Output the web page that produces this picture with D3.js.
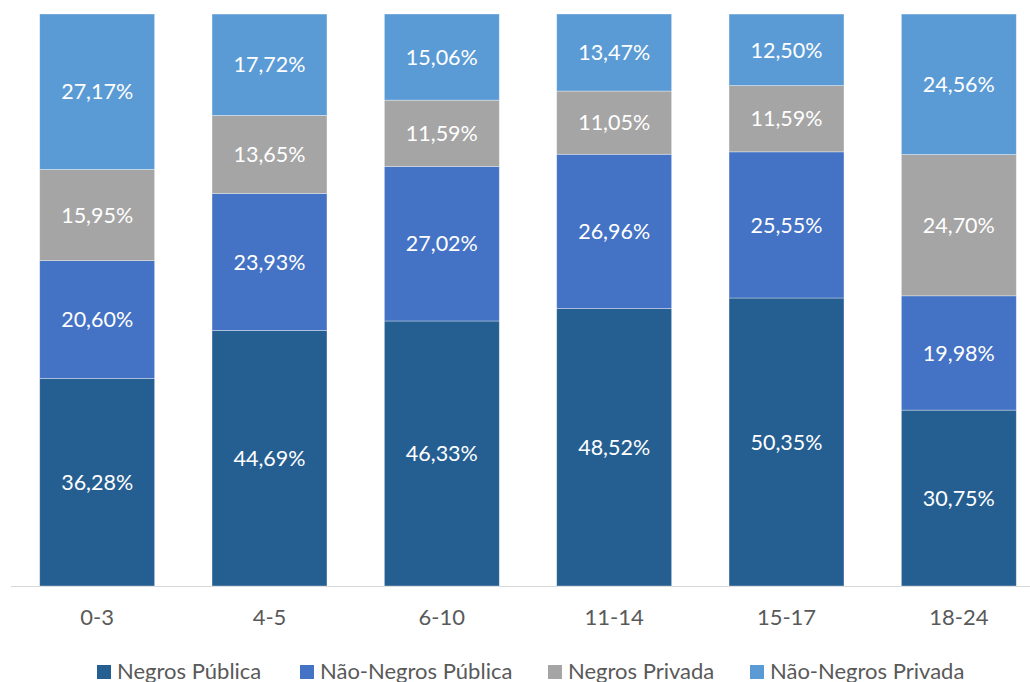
<!DOCTYPE html>
<html>
<head>
<meta charset="utf-8">
<script src="https://cdn.jsdelivr.net/npm/d3@7"></script>
<style>
  body { margin: 0; background: #fff; }
  svg { display: block; font-family: Lato, "Open Sans", sans-serif; }
</style>
</head>
<body>
<script>
const categories = ["0-3", "4-5", "6-10", "11-14", "15-17", "18-24"];
const seriesNames = ["Negros Pública", "Não-Negros Pública", "Negros Privada", "Não-Negros Privada"];
const negrosPublica = [36.28, 44.69, 46.33, 48.52, 50.35, 30.75];
const naoNegrosPublica = [20.60, 23.93, 27.02, 26.96, 25.55, 19.98];
const negrosPrivada = [15.95, 13.65, 11.59, 11.05, 11.59, 24.70];
const naoNegrosPrivada = [27.17, 17.72, 15.06, 13.47, 12.50, 24.56];
const colors = ["#255e91", "#4472c4", "#a5a5a5", "#5b9bd5"];

const w = 1030, h = 682;
const plotLeft = 11, plotRight = 1045, plotTop = 14, plotBottom = 586;

const rows = categories.map((c, i) => ({
  cat: c,
  "Negros Pública": negrosPublica[i],
  "Não-Negros Pública": naoNegrosPublica[i],
  "Negros Privada": negrosPrivada[i],
  "Não-Negros Privada": naoNegrosPrivada[i]
}));

const stack = d3.stack().keys(seriesNames)(rows);

const x = d3.scaleBand().domain(categories).range([plotLeft, plotRight]).paddingInner(0.333).paddingOuter(0.1665);
const y = d3.scaleLinear().domain([0, 100]).range([plotBottom, plotTop]);
const color = d3.scaleOrdinal().domain(seriesNames).range(colors);

const svg = d3.select("body").append("svg")
  .attr("width", w)
  .attr("height", h);

// axis line
svg.append("line")
  .attr("x1", plotLeft).attr("x2", plotRight)
  .attr("y1", plotBottom + 0.5).attr("y2", plotBottom + 0.5)
  .attr("stroke", "#d9d9d9")
  .attr("stroke-width", 1);

const groups = svg.selectAll("g.series")
  .data(stack)
  .join("g")
  .attr("class", "series")
  .attr("fill", d => color(d.key));

groups.selectAll("rect")
  .data(d => d)
  .join("rect")
  .attr("x", d => x(d.data.cat))
  .attr("y", d => y(d[1]))
  .attr("width", x.bandwidth())
  .attr("height", d => y(d[0]) - y(d[1]))
  .attr("stroke", "rgba(255,255,255,0.45)")
  .attr("stroke-width", 0.75);

// data labels
groups.selectAll("text")
  .data(d => d)
  .join("text")
  .attr("x", d => x(d.data.cat) + x.bandwidth() / 2)
  .attr("y", d => (y(d[0]) + y(d[1])) / 2)
  .attr("dy", "0.36em")
  .attr("text-anchor", "middle")
  .attr("fill", "#fff")
  .style("font-size", "21.5px")
  .text(d => (d[1] - d[0]).toFixed(2).replace(".", ",") + "%");

// category labels
svg.selectAll("text.cat")
  .data(categories)
  .join("text")
  .attr("class", "cat")
  .attr("x", d => x(d) + x.bandwidth() / 2)
  .attr("y", 625)
  .attr("text-anchor", "middle")
  .attr("fill", "#595959")
  .style("font-size", "22px")
  .text(d => d);

// legend
const legendX = [97, 300, 548, 750];
const legend = svg.selectAll("g.legend")
  .data(seriesNames)
  .join("g")
  .attr("class", "legend")
  .attr("transform", (d, i) => `translate(${legendX[i]}, 0)`);

legend.append("rect")
  .attr("x", 0)
  .attr("y", 665)
  .attr("width", 14)
  .attr("height", 14)
  .attr("fill", d => color(d));

legend.append("text")
  .attr("x", 20)
  .attr("y", 679)
  .attr("fill", "#595959")
  .style("font-size", "22px")
  .text(d => d);
</script>
</body>
</html>
